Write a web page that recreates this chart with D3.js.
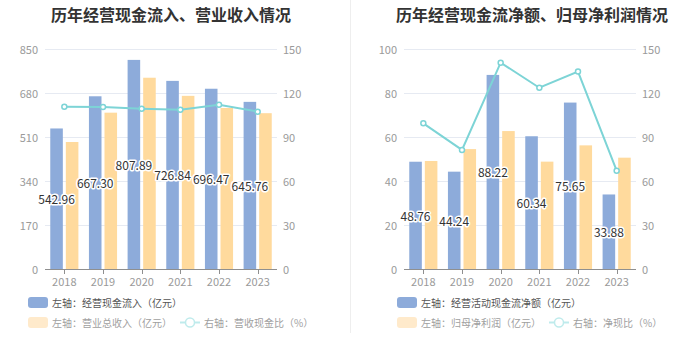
<!DOCTYPE html>
<html><head><meta charset="utf-8">
<script src="https://cdn.jsdelivr.net/npm/d3@7/dist/d3.min.js"></script>
<style>
html,body{margin:0;padding:0;background:#fff;}
svg{display:block;font-family:"Noto Sans CJK SC","Noto Sans",sans-serif;}
</style></head><body>
<svg id="c" width="699" height="359"></svg>
<script>
const years = ["2018","2019","2020","2021","2022","2023"];
// left chart
const cashInflow = [542.96, 667.30, 807.89, 726.84, 696.47, 645.76];
const revenue = [490.7, 604, 739, 669, 622, 602];
const cashRevRatio = [110.6, 110.5, 109.3, 108.6, 112.0, 107.3];
const leftTicksL = [0,170,340,510,680,850];
const leftTicksR = [0,30,60,90,120,150];
// right chart
const netCashFlow = [48.76, 44.24, 88.22, 60.34, 75.65, 33.88];
const netProfit = [49.1, 54.5, 62.7, 48.8, 56.2, 50.6];
const netCashRatio = [99.3, 81.2, 140.7, 123.6, 134.6, 67.0];
const rightTicksL = [0,20,40,60,80,100];
const rightTicksR = [0,30,60,90,120,150];

const titles = ["历年经营现金流入、营业收入情况","历年经营现金流净额、归母净利润情况"];
const legendA = [["左轴：经营现金流入（亿元）","左轴：营业总收入（亿元）","右轴：营收现金比（%）"],
                 ["左轴：经营活动现金流净额（亿元）","左轴：归母净利润（亿元）","右轴：净现比（%）"]];

const BLUE="#8DABDA", YELLOW="#FFDA9D", LINE="#7DD4D6";
const svg = d3.select("#c");

svg.append("line").attr("x1",350.5).attr("x2",350.5).attr("y1",0).attr("y2",333)
  .attr("stroke","#eeeeee").attr("stroke-width",1);

function panel(cfg){
  const g = svg.append("g");
  const x = d3.scaleBand().domain(years).range([cfg.x0,cfg.x1]);
  const yL = d3.scaleLinear().domain([0,d3.max(cfg.ticksL)]).range([269,49]);
  const yR = d3.scaleLinear().domain([0,d3.max(cfg.ticksR)]).range([269,49]);
  g.append("text").attr("x",cfg.tx).attr("y",14).attr("text-anchor","middle")
    .attr("dominant-baseline","central").attr("font-size",16).attr("font-weight","bold")
    .attr("fill","#333").text(cfg.title);
  g.selectAll(".grid").data(cfg.ticksL.slice(1)).join("line")
    .attr("x1",cfg.x0).attr("x2",cfg.x1).attr("y1",d=>Math.round(yL(d))+0.5).attr("y2",d=>Math.round(yL(d))+0.5)
    .attr("stroke","#E6EAF2").attr("stroke-width",1);
  g.selectAll(".yl").data(cfg.ticksL).join("text")
    .attr("x",cfg.x0-7).attr("y",d=>yL(d)).attr("text-anchor","end").attr("dominant-baseline","central")
    .attr("font-size",11).attr("fill","#9a9a9a").text(d=>d);
  g.selectAll(".yr").data(cfg.ticksR).join("text")
    .attr("x",cfg.x1+6).attr("y",d=>yR(d)).attr("text-anchor","start").attr("dominant-baseline","central")
    .attr("font-size",11).attr("fill","#9a9a9a").text(d=>d);
  const bw = x.bandwidth()*0.325, gap = 3;
  const off = (x.bandwidth() - 2*bw - gap)/2;
  g.selectAll(".b1").data(cfg.bars1).join("rect")
    .attr("x",(d,i)=>x(years[i])+off).attr("width",bw)
    .attr("y",d=>yL(d)).attr("height",d=>yL(0)-yL(d)).attr("fill",BLUE);
  g.selectAll(".b2").data(cfg.bars2).join("rect")
    .attr("x",(d,i)=>x(years[i])+off+bw+gap).attr("width",bw)
    .attr("y",d=>yL(d)).attr("height",d=>yL(0)-yL(d)).attr("fill",YELLOW);
  g.append("line").attr("x1",cfg.x0).attr("x2",cfg.x1).attr("y1",269.5).attr("y2",269.5)
    .attr("stroke","#8f8f8f").attr("stroke-width",1);
  g.selectAll(".tk").data(years).join("line")
    .attr("x1",d=>Math.round(x(d)+x.bandwidth()/2)+0.5).attr("x2",d=>Math.round(x(d)+x.bandwidth()/2)+0.5)
    .attr("y1",269.5).attr("y2",274).attr("stroke","#8f8f8f");
  g.selectAll(".xl").data(years).join("text")
    .attr("x",d=>x(d)+x.bandwidth()/2).attr("y",281).attr("text-anchor","middle").attr("dominant-baseline","central")
    .attr("font-size",11).attr("fill","#9a9a9a").text(d=>d);
  const line = d3.line().x((d,i)=>x(years[i])+x.bandwidth()/2).y(d=>yR(d));
  g.append("path").datum(cfg.ratio).attr("d",line).attr("fill","none").attr("stroke",LINE).attr("stroke-width",2);
  g.selectAll(".pt").data(cfg.ratio).join("circle")
    .attr("cx",(d,i)=>x(years[i])+x.bandwidth()/2).attr("cy",d=>yR(d)).attr("r",2.5)
    .attr("fill","#fff").attr("stroke",LINE).attr("stroke-width",1.5);
  g.selectAll(".lb").data(cfg.bars1).join("text")
    .attr("x",(d,i)=>x(years[i])+off+bw/2).attr("y",d=>(yL(d)+yL(0))/2)
    .attr("text-anchor","middle").attr("dominant-baseline","central")
    .attr("font-size",12).attr("fill","#333").attr("stroke","#fff").attr("stroke-width",3)
    .attr("paint-order","stroke").attr("stroke-linejoin","round")
    .text(d=>d.toFixed(2));
  const L = cfg.leg;
  g.append("rect").attr("x",cfg.lx).attr("y",297).attr("width",20).attr("height",11).attr("rx",3).attr("fill",BLUE);
  g.append("text").attr("x",cfg.lx+24).attr("y",302.5).attr("dominant-baseline","central")
    .attr("font-size",10).attr("fill","#555").text(L[0]);
  g.append("rect").attr("x",cfg.lx).attr("y",317).attr("width",20).attr("height",11).attr("rx",3).attr("fill","#FFEACB");
  g.append("text").attr("x",cfg.lx+24).attr("y",322.5).attr("dominant-baseline","central")
    .attr("font-size",10).attr("fill","#a0a0a0").text(L[1]);
  g.append("line").attr("x1",cfg.lx2).attr("x2",cfg.lx2+20).attr("y1",322.5).attr("y2",322.5)
    .attr("stroke","#BFEBEC").attr("stroke-width",2);
  g.append("circle").attr("cx",cfg.lx2+10).attr("cy",322.5).attr("r",4.5).attr("fill","#fff")
    .attr("stroke","#BFEBEC").attr("stroke-width",1.5);
  g.append("text").attr("x",cfg.lx2+24).attr("y",322.5).attr("dominant-baseline","central")
    .attr("font-size",10).attr("fill","#a0a0a0").text(L[2]);
}

panel({x0:45,x1:277,tx:171,title:titles[0],ticksL:leftTicksL,ticksR:leftTicksR,
  bars1:cashInflow,bars2:revenue,ratio:cashRevRatio,leg:legendA[0],lx:28,lx2:180});
panel({x0:404,x1:636,tx:532,title:titles[1],ticksL:rightTicksL,ticksR:rightTicksR,
  bars1:netCashFlow,bars2:netProfit,ratio:netCashRatio,leg:legendA[1],lx:397,lx2:549});
</script>
</body></html>
